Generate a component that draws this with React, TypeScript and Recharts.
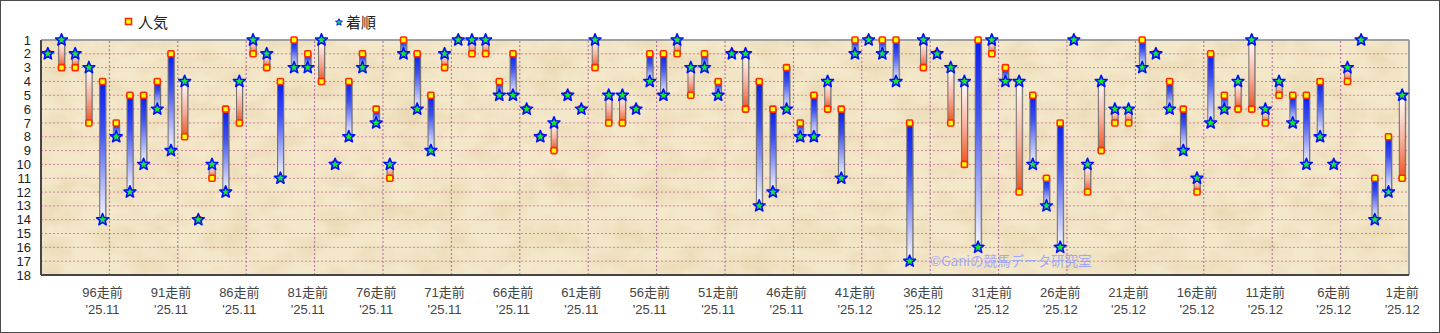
import React from "react";
import {
  ComposedChart,
  Bar,
  Line,
  XAxis,
  YAxis,
  CartesianGrid,
  ReferenceLine,
} from "recharts";

// 100走前 .. 1走前
const races = Array.from({ length: 100 }, (_, i) => 100 - i);

// 人気 (popularity rank) per race, oldest first
const popularity = [
  2, 3, 3, 7, 4, 7, 5, 5, 4, 2,
  8, 14, 11, 6, 7, 2, 3, 4, 1, 2,
  4, 10, 4, 2, 6, 11, 1, 2, 5, 3,
  1, 2, 2, 4, 2, 6, 8, 9, 5, 6,
  3, 7, 7, 6, 2, 2, 2, 5, 2, 4,
  2, 6, 4, 6, 3, 7, 5, 6, 6, 1,
  1, 1, 1, 7, 3, 2, 7, 10, 1, 2,
  3, 12, 5, 11, 7, 1, 12, 9, 7, 7,
  1, 2, 4, 6, 12, 2, 5, 6, 6, 7,
  5, 5, 5, 4, 10, 4, 1, 11, 8, 11,
];

// 着順 (finishing position) per race, oldest first
const finish = [
  2, 1, 2, 3, 14, 8, 12, 10, 6, 9,
  4, 14, 10, 12, 4, 1, 2, 11, 3, 3,
  1, 10, 8, 3, 7, 10, 2, 6, 9, 2,
  1, 1, 1, 5, 5, 6, 8, 7, 5, 6,
  1, 5, 5, 6, 4, 5, 1, 3, 3, 5,
  2, 2, 13, 12, 6, 8, 8, 4, 11, 2,
  1, 2, 4, 17, 1, 2, 3, 4, 16, 1,
  4, 4, 10, 13, 16, 1, 10, 4, 6, 6,
  3, 2, 6, 9, 11, 7, 6, 4, 1, 6,
  4, 7, 10, 8, 10, 3, 1, 14, 12, 5,
];

const tickRaces = [96, 91, 86, 81, 76, 71, 66, 61, 56, 51, 46, 41, 36, 31, 26, 21, 16, 11, 6, 1];
const tickMonths = [
  "'25.11", "'25.11", "'25.11", "'25.11", "'25.11", "'25.11", "'25.11",
  "'25.11", "'25.11", "'25.11", "'25.11", "'25.12", "'25.12", "'25.12",
  "'25.12", "'25.12", "'25.12", "'25.12", "'25.12", "'25.12",
];
const gridRaces = [95, 90, 85, 80, 75, 70, 65, 60, 55, 50, 45, 40, 35, 30, 25, 20, 15, 10, 5];
const rankTicks = [1, 2, 3, 4, 5, 6, 7, 8, 9, 10, 11, 12, 13, 14, 15, 16, 17, 18];

const data = races.map((n, i) => ({
  n,
  pop: popularity[i],
  fin: finish[i],
  range: [popularity[i], finish[i]],
}));

const FONT = "'Liberation Sans', Arial, 'Noto Sans CJK JP', sans-serif";
const JP_FONT = "'Noto Sans CJK JP', 'Liberation Sans', sans-serif";

const starPath = (cx: number, cy: number, ro: number, ri: number) => {
  let d = "";
  for (let k = 0; k < 10; k++) {
    const r = k % 2 === 0 ? ro : ri;
    const a = -Math.PI / 2 + (k * Math.PI) / 5;
    d += (k === 0 ? "M" : "L") + (cx + r * Math.cos(a)).toFixed(2) + "," + (cy + r * Math.sin(a)).toFixed(2);
  }
  return d + "Z";
};

const RangeBar = (props: any) => {
  const { x, y, width, height, payload } = props;
  if (!payload || payload.pop === payload.fin) return null;
  const top = Math.min(y, y + height);
  const h = Math.abs(height);
  const fill = payload.pop < payload.fin ? "url(#gBlue)" : "url(#gRed)";
  return (
    <g>
      <rect x={x + 1} y={top + 1} width={width} height={h} fill="#8a8a8a" opacity={0.5} />
      <rect x={x} y={top} width={width} height={h} fill={fill} stroke="#6e6e6e" strokeWidth={1} />
    </g>
  );
};

const SquareDot = (props: any) => {
  const { cx, cy, index } = props;
  if (cx == null || cy == null) return null;
  return (
    <rect key={"s" + index} x={cx - 3} y={cy - 3} width={6} height={6} rx={1}
      fill="#ffff00" stroke="#ff2a00" strokeWidth={1.6} />
  );
};

const StarDot = (props: any) => {
  const { cx, cy, index } = props;
  if (cx == null || cy == null) return null;
  return (
    <path key={"f" + index} d={starPath(cx, cy, 6.2, 2.7)} fill="#10e830" stroke="#0010ff"
      strokeWidth={1.6} strokeLinejoin="round" />
  );
};

const XTick = (props: any) => {
  const { x, y, payload } = props;
  const k = tickRaces.indexOf(Number(payload.value));
  if (k < 0) return null;
  return (
    <g>
      <text x={x} y={y + 22} textAnchor="middle" fontSize={13} fontFamily={FONT} fill="#444">
        {tickRaces[k] + "走前"}
      </text>
      <text x={x} y={y + 39} textAnchor="middle" fontSize={13} fontFamily={FONT} fill="#444">
        {tickMonths[k]}
      </text>
    </g>
  );
};

export default function App() {
  return (
    <div
      style={{
        position: "fixed",
        left: 0,
        top: 0,
        width: 1440,
        height: 333,
        boxSizing: "border-box",
        border: "1px solid #4a4a4a",
        background: "#fff",
        overflow: "hidden",
      }}
    >
      <svg width={0} height={0} style={{ position: "absolute" }}>
        <defs>
          <linearGradient id="gBlue" x1="0" y1="0" x2="0" y2="1">
            <stop offset="0%" stopColor="#0a1cf4" />
            <stop offset="35%" stopColor="#3d50f0" />
            <stop offset="100%" stopColor="#fbfbff" />
          </linearGradient>
          <linearGradient id="gRed" x1="0" y1="0" x2="0" y2="1">
            <stop offset="0%" stopColor="#ffffff" />
            <stop offset="55%" stopColor="#f7ad9a" />
            <stop offset="100%" stopColor="#f2521c" />
          </linearGradient>
          <filter id="paperNoise" x="0" y="0" width="100%" height="100%">
            <feTurbulence type="fractalNoise" baseFrequency="0.028 0.04" numOctaves={5} seed={11} />
            <feColorMatrix
              type="matrix"
              values="0 0 0 0 0.80  0 0 0 0 0.66  0 0 0 0 0.42  1.4 0 0 0 -0.52"
            />
          </filter>
          <pattern id="paper" patternUnits="userSpaceOnUse" x={0} y={0} width={1440} height={333}>
            <rect x={0} y={0} width={1440} height={333} fill="#f4e8ca" />
            <rect x={0} y={0} width={1440} height={333} fill="#fff" filter="url(#paperNoise)" />
          </pattern>
        </defs>
      </svg>

      {/* legend */}
      <div style={{ position: "absolute", left: 123, top: 10, display: "flex", alignItems: "center", fontFamily: JP_FONT, fontSize: 15, color: "#222" }}>
        <svg width={9} height={9} style={{ marginRight: 5 }}>
          <rect x={1.5} y={1.5} width={6} height={6} fill="#ffff00" stroke="#ff2a00" strokeWidth={1.6} />
        </svg>
        <span>人気</span>
      </div>
      <div style={{ position: "absolute", left: 334, top: 10, display: "flex", alignItems: "center", fontFamily: JP_FONT, fontSize: 15, color: "#222" }}>
        <svg width={8} height={8} style={{ marginRight: 3 }}>
          <path d={starPath(4, 4.3, 3.6, 1.6)} fill="#10e830" stroke="#0010ff" strokeWidth={1} />
        </svg>
        <span>着順</span>
      </div>

      <ComposedChart
        width={1438}
        height={331}
        data={data}
        margin={{ top: 39, right: 30, bottom: 0, left: 0 }}
      >
        <CartesianGrid
          vertical={false}
          fill="url(#paper)"
          fillOpacity={1}
          stroke="#b2407e"
          strokeDasharray="2 2"
          strokeOpacity={0.6}
        />
        {gridRaces.map((r) => (
          <ReferenceLine key={r} x={r} position="start" stroke="#9a4a9a" strokeDasharray="2 2" strokeOpacity={0.8} />
        ))}
        <ReferenceLine y={1} stroke="#a0a0a0" strokeWidth={2} />
        <ReferenceLine x={1} position="end" stroke="#a0a0a0" strokeWidth={2} />
        <XAxis
          dataKey="n"
          type="category"
          interval={0}
          height={57}
          tickSize={0}
          tickMargin={0}
          tickLine={false}
          axisLine={{ stroke: "#454545", strokeWidth: 2 }}
          tick={<XTick />}
        />
        <YAxis
          reversed
          type="number"
          domain={[1, 18]}
          ticks={rankTicks}
          interval={0}
          width={40}
          tickSize={0}
          tickMargin={10}
          tickLine={false}
          axisLine={{ stroke: "#454545", strokeWidth: 2 }}
          tick={{ fontSize: 13, fontFamily: FONT, fill: "#222" }}
        />
        <Bar dataKey="range" barSize={6} shape={<RangeBar />} isAnimationActive={false} />
        <Line dataKey="pop" stroke="none" dot={<SquareDot />} activeDot={false} isAnimationActive={false} />
        <Line dataKey="fin" stroke="none" dot={<StarDot />} activeDot={false} isAnimationActive={false} />
      </ComposedChart>

      <div
        style={{
          position: "absolute",
          left: 929,
          top: 249,
          fontFamily: JP_FONT,
          fontSize: 13.5,
          color: "#9aa2ff",
          whiteSpace: "nowrap",
          opacity: 0.9,
        }}
      >
        ©Ganiの競馬データ研究室
      </div>
    </div>
  );
}
